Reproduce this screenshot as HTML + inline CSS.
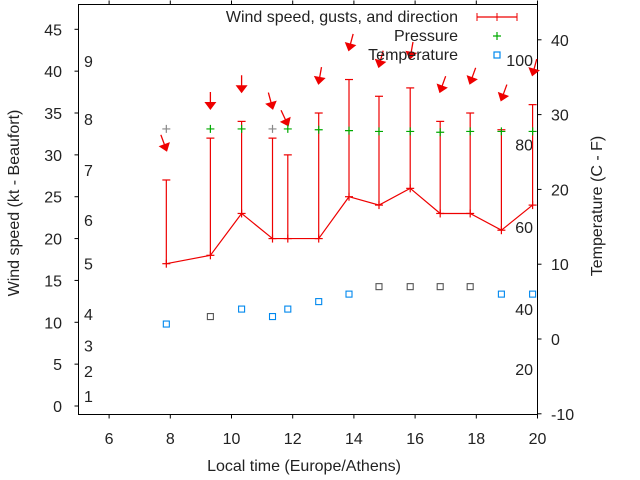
<!DOCTYPE html>
<html><head><meta charset="utf-8"><style>
html,body{margin:0;padding:0;background:#fff}
svg{display:block;font-family:"Liberation Sans",sans-serif}
text{fill:#222;font-size:16px}
</style></head><body>
<svg id="chart" width="640" height="480">
<g id="axes"></g><g id="marks"></g>
<g>
<text x="458" y="22" text-anchor="end">Wind speed, gusts, and direction</text>
<line x1="477" y1="17" x2="517" y2="17" stroke="#e00" stroke-width="1.2"/>
<line x1="477" y1="13" x2="477" y2="21" stroke="#e00"/><line x1="517" y1="13" x2="517" y2="21" stroke="#e00"/><line x1="497" y1="13" x2="497" y2="21" stroke="#e00"/>
<text x="458" y="41" text-anchor="end">Pressure</text>
<path d="M493 36h8M497 32v8" stroke="#0a0" stroke-width="1.2"/>
<text x="458" y="60" text-anchor="end">Temperature</text>
<rect x="494" y="52" width="6" height="6" fill="none" stroke="#08e" stroke-width="1.2"/>
</g>
<text x="304" y="471" text-anchor="middle">Local time (Europe/Athens)</text>
<text transform="translate(19,203) rotate(-90)" text-anchor="middle">Wind speed (kt - Beaufort)</text>
<text transform="translate(602,206) rotate(-90)" text-anchor="middle">Temperature (C - F)</text>
</svg>
<script>
const hours=[7.87,9.31,10.33,11.34,11.84,12.85,13.84,14.82,15.84,16.82,17.8,18.82,19.84];
const wind=[17,18,23,20,20,20,25,24,26,23,23,21,24];
const gust=[27,32,34,32,30,35,39,37,38,34,35,33,36];
const dirs=[20,0,0,15,25,-10,-15,-15,-10,-20,-20,-20,-15];
const pressure=[33.1,33.1,33.1,33.1,33.1,33.0,32.9,32.8,32.8,32.7,32.8,32.8,32.8];
const temps=[2,3,4,3,4,5,6,7,7,7,7,6,6];
const xTicks=[6,8,10,12,14,16,18,20];
const yTicks=[0,5,10,15,20,25,30,35,40,45];
const y2Ticks=[-10,0,10,20,30,40];
const beaufort=[["1",1.2],["2",4.2],["3",7.2],["4",11],["5",17],["6",22.2],["7",28.2],["8",34.3],["9",41.2]];
const fahr=[["20",-4],["40",4],["60",15],["80",26],["100",37.3]];
const L=78.5,R=537.5,T=4.5,B=414.5;
const X=h=>L+(h-5)*(R-L)/15;
const Y=v=>406-v*(406-29.3)/45;
const Y2=t=>339-t*7.48;
const NS="http://www.w3.org/2000/svg";
function mk(tag,attrs,parent,txt){const e=document.createElementNS(NS,tag);for(const k in attrs)e.setAttribute(k,attrs[k]);if(txt!==undefined)e.textContent=txt;parent.appendChild(e);return e;}
const ax=document.getElementById('axes'),mg=document.getElementById('marks');
const fr=mk('rect',{x:L,y:T,width:R-L,height:B-T,fill:'none',stroke:'#000','stroke-width':1},ax);


xTicks.forEach(h=>{const x=X(h);
mk('line',{x1:x,y1:B,x2:x,y2:B+4,stroke:'#000'},ax);mk('line',{x1:x,y1:T,x2:x,y2:T-4,stroke:'#000'},ax);
const t=mk('text',{x:x,y:444,'text-anchor':'middle'},ax,String(h));

});
yTicks.forEach(v=>{const y=Y(v);mk('line',{x1:L-4,y1:y,x2:L,y2:y,stroke:'#000'},ax);
const t=mk('text',{x:62,y:y+6,'text-anchor':'end'},ax,String(v));

});
y2Ticks.forEach(v=>{const y=Y2(v);mk('line',{x1:R,y1:y,x2:R+4,y2:y,stroke:'#000'},ax);
const t=mk('text',{x:551,y:y+6},ax,String(v));

});
beaufort.forEach(([s,v])=>{const t=mk('text',{x:84,y:Y(v)+6},ax,s);

});
fahr.forEach(([s,v])=>{const t=mk('text',{x:533,y:Y2(v)+6,'text-anchor':'end'},ax,s);

});
const pl=mk('polyline',{points:hours.map((h,i)=>X(h)+','+Y(wind[i])).join(' '),fill:'none',stroke:'#e00','stroke-width':1.2},mg);


hours.forEach((h,i)=>{const x=X(h),yw=Y(wind[i]),yg=Y(gust[i]);
const g=mk('g',{},mg);


mk('line',{x1:x,y1:yw,x2:x,y2:yg,stroke:'#e00','stroke-width':1.2},g);
mk('line',{x1:x-4,y1:yg,x2:x+4,y2:yg,stroke:'#e00','stroke-width':1.2},g);
mk('line',{x1:x-4,y1:yw,x2:x+4,y2:yw,stroke:'#e00','stroke-width':1.2},g);
mk('line',{x1:x,y1:yw-4,x2:x,y2:yw+4,stroke:'#e00','stroke-width':1.2},g);
const ay=Y(gust[i]+3.6);
const a=mk('g',{transform:`translate(${x},${ay}) rotate(${-dirs[i]})`},mg);


mk('line',{x1:0,y1:-16,x2:0,y2:-3,stroke:'#e00','stroke-width':1.3},a);
mk('path',{d:'M-6,-6 L6,-6 L0,2 Z',fill:'#e00'},a);
const pc=(i===0||i===3)?'#888':'#0a0';
const p=mk('path',{d:`M${x-4} ${Y(pressure[i])}h8M${x} ${Y(pressure[i])-4}v8`,stroke:pc,'stroke-width':1.2},mg);


const tc=(i===1||i===7||i===8||i===9||i===10)?'#555':'#08e';
const r=mk('rect',{x:x-3,y:Y2(temps[i])-3,width:6,height:6,fill:'none',stroke:tc,'stroke-width':1.1},mg);


});
</script>
</body></html>
